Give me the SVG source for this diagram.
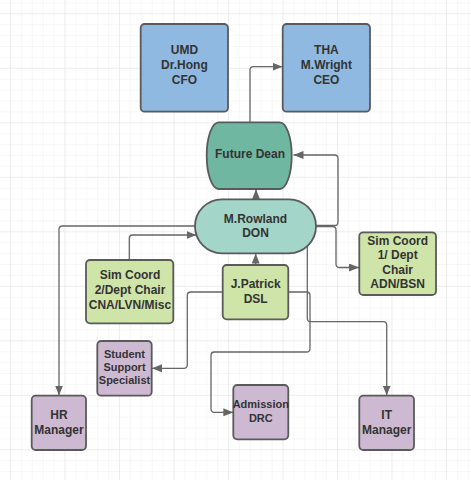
<svg xmlns="http://www.w3.org/2000/svg" width="471" height="480" viewBox="0 0 471 480">
<defs>
<pattern id="g" x="10" y="13.3" width="10.9" height="10.9" patternUnits="userSpaceOnUse">
<path d="M0 0H10.9M0 0V10.9" fill="none" stroke="#ececec" stroke-width="0.8"/>
</pattern>
<pattern id="G" x="10" y="13.3" width="54.5" height="54.5" patternUnits="userSpaceOnUse">
<path d="M0 0H54.5M0 0V54.5" fill="none" stroke="#e2e2e2" stroke-width="0.9"/>
</pattern>
<marker id="a" viewBox="0 0 10 8" refX="10" refY="4" markerWidth="10" markerHeight="8" markerUnits="userSpaceOnUse" orient="auto">
<path d="M0 0L10 4L0 8Z" fill="#666"/>
</marker>
</defs>
<style>
.n{stroke:#5a5a5a;stroke-width:1.8}
.b{fill:#8fb9e1}.fd{fill:#6fb7a1}.dn{fill:#a4d5c9}.gr{fill:#cfe4a8}.pu{fill:#cdbad2}
text{font-family:"Liberation Sans",Arial,sans-serif;font-weight:bold;fill:#333;text-anchor:middle;font-size:12px}
.s{font-size:11px}
.c{fill:none;stroke:#666;stroke-width:1.3;stroke-linejoin:round;marker-end:url(#a)}
</style>
<rect width="471" height="480" fill="#fff"/>
<rect width="471" height="480" fill="url(#g)"/>
<rect width="471" height="480" fill="url(#G)"/>
<g id="connectors">
<path class="c" d="M250 122.3V70Q250 66.7 253.3 66.7H282.5"/>
<path class="c" d="M256 199.3V189.3"/>
<path class="c" d="M315 225.5H334.5Q338 225.5 338 222V158.5Q338 155 334.5 155H293.5"/>
<path class="c" d="M315 226.5H332.5Q336 226.5 336 230V264Q336 267.5 339.5 267.5H359"/>
<path class="c" d="M195.5 226H62.5Q59 226 59 229.5V395.5"/>
<path class="c" d="M129.3 260V238.5Q129.3 235 132.8 235H196.5"/>
<path class="c" d="M255.7 265V253.5"/>
<path class="c" d="M222.7 292H190.8Q187.3 292 187.3 295.5V364.8Q187.3 368.3 183.8 368.3H152"/>
<path class="c" d="M288.3 292H306.5Q310 292 310 295.5V348.5Q310 352 306.5 352H214.5Q211 352 211 355.5V408.8Q211 412.3 214.5 412.3H233.3"/>
<path class="c" d="M307.3 246.3V318.2Q307.3 321.7 310.8 321.7H383.2Q386.7 321.7 386.7 325.2V395.5"/>
</g>
<g id="umd"><rect class="n b" x="140.7" y="24" width="87.3" height="87.7" rx="4"/><text x="184.4" y="54.3">UMD</text><text x="184.4" y="69">Dr.Hong</text><text x="184.4" y="83.6">CFO</text></g>
<g id="tha"><rect class="n b" x="282.7" y="24" width="87.3" height="87.7" rx="4"/><text x="326.4" y="54.3">THA</text><text x="326.4" y="69">M.Wright</text><text x="326.4" y="83.6">CEO</text></g>
<g id="future-dean"><rect class="n fd" x="206.7" y="122.3" width="85" height="66.7" rx="12" ry="33.3"/><text x="250" y="157.6">Future Dean</text></g>
<g id="rowland"><rect class="n dn" x="195" y="199.3" width="121" height="54" rx="27"/><text x="255.5" y="222.6">M.Rowland</text><text x="255.5" y="237">DON</text></g>
<g id="sim2"><rect class="n gr" x="86" y="260" width="87.3" height="63.3" rx="4"/><text x="130" y="279.3">Sim Coord</text><text x="130" y="294.3">2/Dept Chair</text><text x="130" y="309.3">CNA/LVN/Misc</text></g>
<g id="patrick"><rect class="n gr" x="222.7" y="265" width="65.6" height="54.3" rx="4"/><text x="255.7" y="287.6">J.Patrick</text><text x="255.7" y="303.3">DSL</text></g>
<g id="sim1"><rect class="n gr" x="359.3" y="232.3" width="76.7" height="62.7" rx="4"/><text x="397.7" y="245">Sim Coord</text><text x="397.7" y="259.3">1/ Dept</text><text x="397.7" y="273.6">Chair</text><text x="397.7" y="287.8">ADN/BSN</text></g>
<g id="student"><rect class="n pu" x="97.3" y="341" width="54.4" height="54.7" rx="4"/><text class="s" x="124.5" y="358">Student</text><text class="s" x="124.5" y="371">Support</text><text class="s" x="124.5" y="384.2">Specialist</text></g>
<g id="hr"><rect class="n pu" x="31.7" y="395.7" width="54.3" height="54.3" rx="4"/><text x="59" y="419.3">HR</text><text x="59" y="433.6">Manager</text></g>
<g id="admission"><rect class="n pu" x="233.3" y="385" width="55" height="54.3" rx="4"/><text class="s" x="260.8" y="408">Admission</text><text class="s" x="260.8" y="421.5">DRC</text></g>
<g id="it"><rect class="n pu" x="359.3" y="395.7" width="54.7" height="54.3" rx="4"/><text x="386.7" y="419.3">IT</text><text x="386.7" y="433.6">Manager</text></g>
</svg>
